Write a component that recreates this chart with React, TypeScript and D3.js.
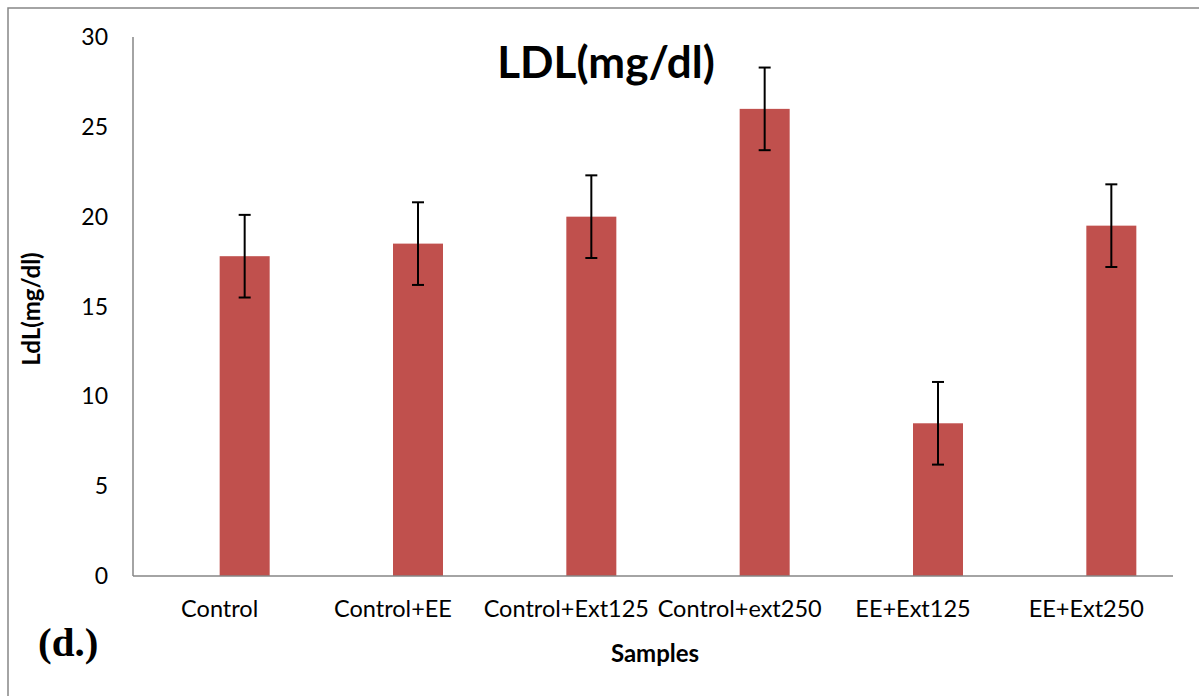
import React from "react";
import * as d3 from "d3";

const categories = ["Control", "Control+EE", "Control+Ext125", "Control+ext250", "EE+Ext125", "EE+Ext250"];
const ldlValues = [17.8, 18.5, 20.0, 26.0, 8.5, 19.5];
const ldlErrors = [2.3, 2.3, 2.3, 2.3, 2.3, 2.3];
const seriesKeys = ["blank", "LDL"];
const yTicks = [0, 5, 10, 15, 20, 25, 30];

export default function App() {
  const W = 1199, H = 696;
  const left = 133, right = 1173, top = 37, bottom = 576;
  const x = d3.scaleBand<string>().domain(categories).range([left, right]).padding(0);
  const y = d3.scaleLinear().domain([0, 30]).range([bottom, top]);
  const bw = x.bandwidth();
  const x1 = d3.scaleBand<string>().domain(seriesKeys).range([bw / 2 - 50, bw / 2 + 50]).padding(0);
  const font = "Lato, 'Open Sans', sans-serif";
  return (
    <svg width={W} height={H} style={{ position: "absolute", left: 0, top: 0 }}>
      <rect x={0} y={0} width={W} height={H} fill="#fff" />
      <rect x={8} y={8} width={1300} height={800} fill="#fff" stroke="#868686" strokeWidth={1.5} />
      {yTicks.map((t) => (
        <text key={t} x={108} y={y(t)} dy="0.35em" textAnchor="end" fontFamily={font} fontSize={23} fill="#000">{t}</text>
      ))}
      {categories.map((c, i) => {
        const bx = (x(c) as number) + (x1("LDL") as number);
        const cx = bx + x1.bandwidth() / 2;
        const v = ldlValues[i], e = ldlErrors[i];
        return (
          <g key={c}>
            <rect x={bx} y={y(v)} width={x1.bandwidth()} height={bottom - y(v)} fill="#C0504D" />
            <line x1={cx} x2={cx} y1={y(v - e)} y2={y(v + e)} stroke="#000" strokeWidth={2} />
            <line x1={cx - 6} x2={cx + 6} y1={y(v + e)} y2={y(v + e)} stroke="#000" strokeWidth={2} />
            <line x1={cx - 6} x2={cx + 6} y1={y(v - e)} y2={y(v - e)} stroke="#000" strokeWidth={2} />
            <text x={(x(c) as number) + bw / 2} y={617} textAnchor="middle" fontFamily={font} fontSize={23.5} fill="#000">{c}</text>
          </g>
        );
      })}
      <line x1={left} x2={left} y1={top} y2={bottom} stroke="#868686" strokeWidth={1.5} />
      <line x1={left} x2={right} y1={bottom} y2={bottom} stroke="#868686" strokeWidth={1.5} />
      <text x={606} y={78} textAnchor="middle" fontFamily={font} fontSize={44} fontWeight="bold" fill="#000">LDL(mg/dl)</text>
      <text x={655} y={662} textAnchor="middle" fontFamily={font} fontSize={24} fontWeight="bold" fill="#000">Samples</text>
      <text transform="translate(40,309) rotate(-90)" textAnchor="middle" fontFamily={font} fontSize={24} fontWeight="bold" fill="#000">LdL(mg/dl)</text>
      <text x={38} y={656} fontFamily="'Liberation Serif', 'DejaVu Serif', serif" fontSize={41} fontWeight="bold" fill="#000">(d.)</text>
    </svg>
  );
}
